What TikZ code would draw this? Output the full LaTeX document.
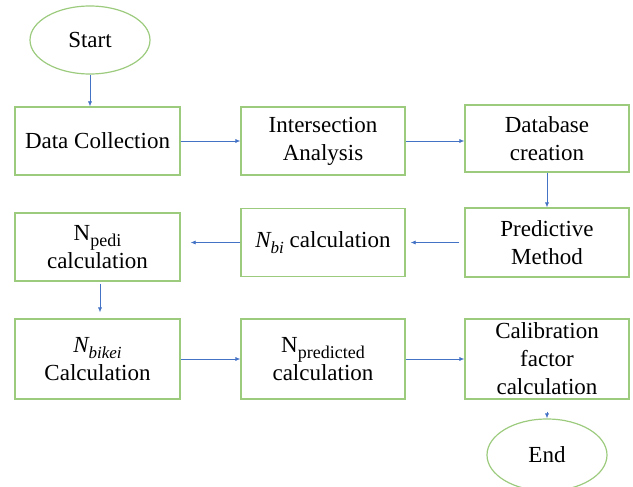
\documentclass[tikz,border=0pt]{standalone}
\usepackage{fontspec}
\setmainfont{Liberation Serif}
\usetikzlibrary{arrows.meta,shapes.geometric}
\definecolor{boxgreen}{HTML}{9CCB7E}
\definecolor{arrblue}{HTML}{4472C4}
\newcommand{\subt}[1]{\raisebox{-6pt}{\fontsize{18}{18}\selectfont #1}}
\newcommand{\subi}[1]{\raisebox{-6pt}{\fontsize{17}{17}\selectfont\itshape #1}}
\begin{document}
\begin{tikzpicture}[x=1pt,y=-1pt,
  every node/.style={font=\fontsize{23}{28}\selectfont, inner sep=0pt},
  procbox/.style={draw=boxgreen, line width=1.2pt, rectangle, minimum width=164pt, align=center},
  termbox/.style={draw=boxgreen, line width=1.2pt, ellipse, minimum width=120pt},
  arr/.style={draw=arrblue, line width=0.7pt, -{Latex[length=5pt,width=4pt]}}]
\useasboundingbox (0,0) rectangle (633,487);
\node[termbox, minimum height=68pt] (start) at (90,40) {Start};
\node[procbox, minimum height=68pt, minimum width=165pt] (data) at (97.5,141) {Data Collection};
\node[procbox, minimum height=68pt] (inter) at (323,141) {Intersection\\Analysis};
\node[procbox, minimum height=67pt] (db) at (547,138.5) {Database\\creation};
\node[procbox, minimum height=69pt] (pred) at (547,242.5) {Predictive\\Method};
\node[procbox, minimum height=68pt] (nbi) at (323,242.5) {{\itshape N}\subi{bi} calculation};
\node[procbox, minimum height=68pt, minimum width=165pt] (npedi) at (97.5,247) {N\subt{pedi}\\calculation};
\node[procbox, minimum height=80pt, minimum width=165pt] (nbikei) at (97.5,359) {{\itshape N}\subi{bikei}\\Calculation};
\node[procbox, minimum height=80pt] (npred) at (323,359) {N\subt{predicted}\\calculation};
\node[procbox, minimum height=80pt] (calib) at (547,359) {Calibration\\factor\\calculation};
\node[termbox, minimum height=72pt] (end) at (547,455) {End};
\draw[arr] (start.south) -- (start.south |- data.north);
\draw[arr] (data) -- (inter);
\draw[arr] (inter.east) -- (inter.east -| db.west);
\draw[arr] (db) -- (pred);
\draw[arr, shorten <=5pt, shorten >=5pt] (pred) -- (nbi);
\draw[arr, shorten >=10pt] (nbi.west) -- (nbi.west -| npedi.east);
\draw[arr, shorten <=2pt, shorten >=6pt] ([xshift=2.5pt]npedi.south) -- ([xshift=2.5pt]nbikei.north);
\draw[arr] (nbikei) -- (npred);
\draw[arr] (npred) -- (calib);
\draw[arr] ([yshift=-12pt]calib.south) -- (end);
\end{tikzpicture}
\end{document}
